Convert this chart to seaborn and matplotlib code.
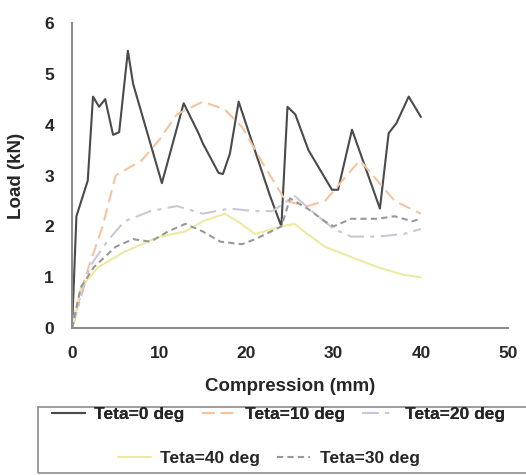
import matplotlib
matplotlib.use("Agg")
import matplotlib.pyplot as plt
import seaborn as sns
import pandas as pd
from matplotlib.patches import Rectangle

# Dane (kompresja w mm, obciazenie w kN)
x_t0 = [0, 0.5, 1.8, 2.4, 3.1, 3.8, 4.7, 5.4, 6.4, 7.0, 10.3, 12.8, 14.5, 15.0, 16.8, 17.3,
        18.1, 19.1, 22.7, 24.0, 24.7, 25.6, 27.1, 29.8, 30.5, 32.1, 35.3, 36.3, 37.2, 38.6, 40.0]
y_t0 = [0, 2.2, 2.9, 4.55, 4.35, 4.5, 3.8, 3.85, 5.45, 4.8, 2.85, 4.42, 3.83, 3.63, 3.05, 3.03,
        3.43, 4.45, 2.6, 2.0, 4.35, 4.2, 3.5, 2.72, 2.72, 3.9, 2.35, 3.83, 4.03, 4.55, 4.15]

x_t10 = [0, 1.5, 3.5, 5, 8, 10, 12, 15, 17.5, 19.5, 22, 24.5, 27, 29, 31, 33, 35, 37, 40]
y_t10 = [0, 1.0, 2.0, 3.0, 3.3, 3.7, 4.2, 4.45, 4.3, 3.95, 3.2, 2.5, 2.4, 2.5, 2.9, 3.3, 2.9, 2.5, 2.25]

x_t20 = [0, 2, 4, 6, 9, 12, 15, 18, 21, 23, 25.5, 27.5, 30, 32, 35, 38, 40]
y_t20 = [0, 1.2, 1.7, 2.1, 2.3, 2.4, 2.25, 2.35, 2.3, 2.3, 2.6, 2.3, 1.95, 1.8, 1.8, 1.85, 1.95]

x_t30 = [0, 1, 2.5, 5, 7, 9, 11, 13, 15, 17, 19.5, 21, 24, 25, 27, 29, 30, 32, 35, 37, 39, 40]
y_t30 = [0, 0.8, 1.2, 1.6, 1.75, 1.7, 1.9, 2.05, 1.9, 1.7, 1.65, 1.75, 2.0, 2.55, 2.35, 2.1, 2.0,
         2.15, 2.15, 2.2, 2.1, 2.15]

x_t40 = [0, 1, 3, 6, 10, 13, 15, 17.5, 19, 21, 24, 25.5, 27, 29, 32, 35, 38, 40]
y_t40 = [0, 0.8, 1.2, 1.5, 1.8, 1.9, 2.1, 2.25, 2.1, 1.85, 2.0, 2.05, 1.85, 1.6, 1.4, 1.2, 1.05, 1.0]

sns.set_theme(style="white")
plt.rcParams['font.family'] = ['Liberation Sans', 'DejaVu Sans']

fig = plt.figure(figsize=(5.26, 4.75), dpi=100)
ax = fig.add_axes([0.137, 0.309, 0.829, 0.643])

serie = [
    ("Teta=0 deg", x_t0, y_t0, "#4a4a4a", "-"),
    ("Teta=10 deg", x_t10, y_t10, "#f6c3a0", (0, (6, 3))),
    ("Teta=20 deg", x_t20, y_t20, "#cdc6d6", (0, (8, 3, 2, 3))),
    ("Teta=40 deg", x_t40, y_t40, "#efe9a4", "-"),
    ("Teta=30 deg", x_t30, y_t30, "#999999", (0, (3, 2))),
]

for label, xs, ys, kolor, styl in serie:
    df = pd.DataFrame({"x": xs, "y": ys})
    sns.lineplot(data=df, x="x", y="y", ax=ax, color=kolor, linestyle=styl,
                 linewidth=1.5, label=label, legend=False, sort=False)

ax.set_xlim(0, 50)
ax.set_ylim(0, 6)
ax.set_xticks([0, 10, 20, 30, 40, 50])
ax.set_yticks([0, 1, 2, 3, 4, 5, 6])
ax.tick_params(axis='both', labelsize=12.5, length=0, pad=13)
for t in ax.get_xticklabels() + ax.get_yticklabels():
    t.set_fontweight('bold')
ax.set_xlabel("Compression (mm)", fontsize=13.5, fontweight='bold', labelpad=12)
ax.set_ylabel("Load (kN)", fontsize=13.5, fontweight='bold', labelpad=14)

sns.despine(ax=ax)
for s in ['left', 'bottom']:
    ax.spines[s].set_color('#8c8c8c')
    ax.spines[s].set_linewidth(1.5)

# Legenda w dwoch wierszach, wspolna ramka
uchwyty = ax.get_lines()
wspolne = dict(frameon=False, handlelength=1.9, columnspacing=1.0, handletextpad=0.55,
               loc='center', prop={'weight': 'bold', 'size': 12.5})
leg1 = fig.legend(uchwyty[:3], [s[0] for s in serie[:3]], ncol=3,
                  bbox_to_anchor=(0.529, 0.128), **wspolne)
leg2 = fig.legend(uchwyty[3:], [s[0] for s in serie[3:]], ncol=2,
                  bbox_to_anchor=(0.511, 0.034), **wspolne)
fig.add_artist(leg1)
fig.patches.append(Rectangle((0.072, 0.004), 0.99, 0.139, transform=fig.transFigure,
                             fill=False, edgecolor='#8c8c8c', linewidth=1.2))

fig.savefig("out.png", dpi=100)
